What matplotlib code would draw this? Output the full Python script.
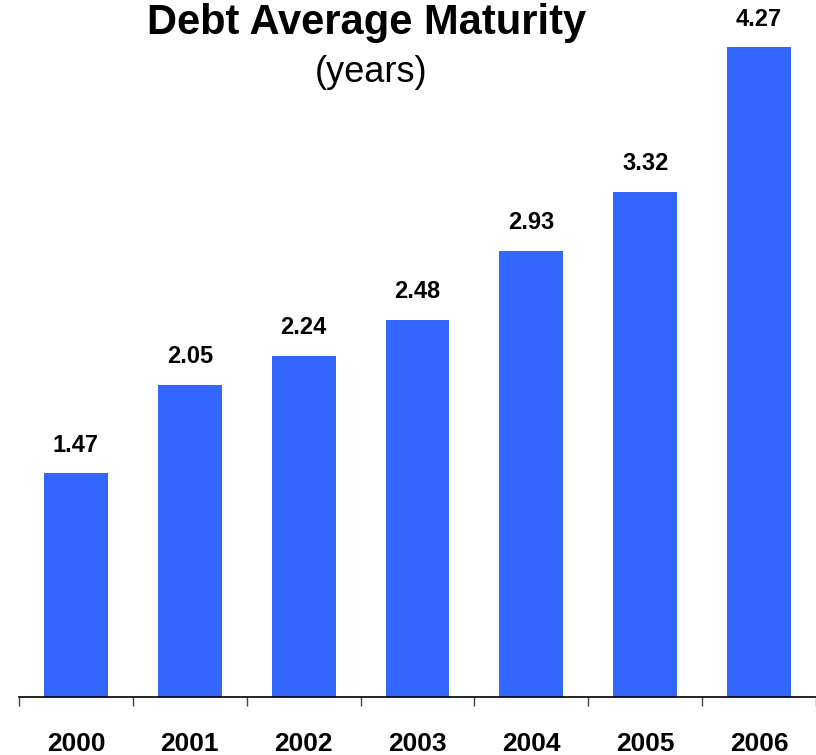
import numpy as np
import matplotlib
matplotlib.use('Agg')
import matplotlib.pyplot as plt

plt.rcParams['font.family'] = ['Liberation Sans', 'DejaVu Sans']

years = ["2000", "2001", "2002", "2003", "2004", "2005", "2006"]
maturity = [1.47, 2.05, 2.24, 2.48, 2.93, 3.32, 4.27]

BAR_COLOR = "#3366FF"

fig = plt.figure(figsize=(8.16, 7.55), dpi=100)
ax = fig.add_axes([19 / 816, 58 / 755, 797 / 816, 697 / 755])

x = np.arange(len(years))
bars = ax.bar(x, maturity, width=0.56, color=BAR_COLOR, zorder=2)

for xi, v in zip(x, maturity):
    ax.annotate(f"{v:.2f}", (xi, v), xytext=(0, 12), textcoords="offset points",
                ha="center", va="bottom", fontsize=17, fontweight="bold")

ax.set_xlim(-0.5, len(years) - 0.5)
ax.set_ylim(0, 4.58)

# category labels at bar centres, tick marks between categories
ax.set_xticks(x)
ax.set_xticklabels(years, fontsize=19, fontweight="bold")
ax.tick_params(axis="x", which="major", length=0, pad=25)
ax.set_xticks(np.arange(-0.5, len(years), 1.0), minor=True)
ax.tick_params(axis="x", which="minor", length=6.5, width=1.0,
               direction="out", color="#444444")
ax.set_yticks([])

for side in ("left", "top", "right"):
    ax.spines[side].set_visible(False)
ax.spines["bottom"].set_linewidth(1.2)

fig.text(367 / 816, 1 - 23 / 755, "Debt Average Maturity", ha="center", va="center",
         fontsize=30, fontweight="bold")
fig.text(371 / 816, 1 - 72 / 755, "(years)", ha="center", va="center", fontsize=26)

fig.savefig("out.png", dpi=100)
